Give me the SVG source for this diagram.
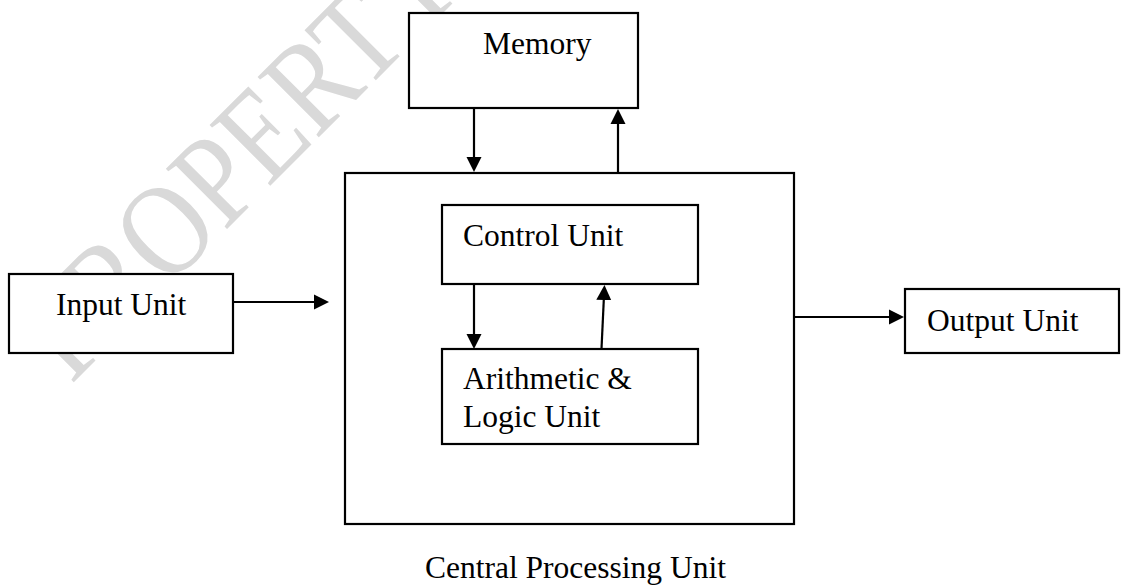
<svg xmlns="http://www.w3.org/2000/svg" width="1121" height="586" viewBox="0 0 1121 586">
  <style>
    .box { fill: #ffffff; stroke: #000000; stroke-width: 2.2; }
    .lbl { font-family: "Liberation Serif", "Times New Roman", serif; font-size: 31.5px; fill: #000000; }
    .conn { stroke: #000000; stroke-width: 2.2; fill: none; marker-end: url(#arrow); }
    .wm { font-family: "Liberation Serif", "Times New Roman", serif; font-size: 131px; fill: #d9d9d9; }
  </style>
  <defs>
    <marker id="arrow" markerUnits="userSpaceOnUse" markerWidth="16" markerHeight="16" refX="11" refY="8" orient="auto">
      <path d="M0,0.5 L15,8 L0,15.5 z" fill="#000000"/>
    </marker>
  </defs>
  <rect width="1121" height="586" fill="#ffffff"/>
  <text class="wm" transform="translate(71,385) rotate(-45) scale(0.85,1)">PROPERTY</text>

  <g id="memory">
    <rect class="box" x="409" y="13" width="229" height="95"/>
    <text class="lbl" x="483" y="54">Memory</text>
  </g>
  <g id="cpu">
    <rect class="box" x="345" y="173" width="449" height="351"/>
    <text class="lbl" x="425" y="578">Central Processing Unit</text>
  </g>
  <g id="control-unit">
    <rect class="box" x="442" y="205" width="256" height="79"/>
    <text class="lbl" x="463" y="246">Control Unit</text>
  </g>
  <g id="alu">
    <rect class="box" x="442" y="349" width="256" height="95"/>
    <text class="lbl" x="463" y="389">Arithmetic &amp;</text>
    <text class="lbl" x="463" y="427">Logic Unit</text>
  </g>
  <g id="input-unit">
    <rect class="box" x="9" y="274" width="224" height="79"/>
    <text class="lbl" x="56" y="315">Input Unit</text>
  </g>
  <g id="output-unit">
    <rect class="box" x="905" y="289" width="214" height="64"/>
    <text class="lbl" x="927" y="331">Output Unit</text>
  </g>

  <g id="connectors">
    <line class="conn" x1="474" y1="108" x2="474" y2="168"/>
    <line class="conn" x1="618" y1="172" x2="618" y2="113"/>
    <line class="conn" x1="233" y1="302" x2="325" y2="302"/>
    <line class="conn" x1="794" y1="317" x2="900" y2="317"/>
    <line class="conn" x1="474" y1="284" x2="474" y2="345"/>
    <line class="conn" x1="601.5" y1="349" x2="604.3" y2="289"/>
  </g>
</svg>
